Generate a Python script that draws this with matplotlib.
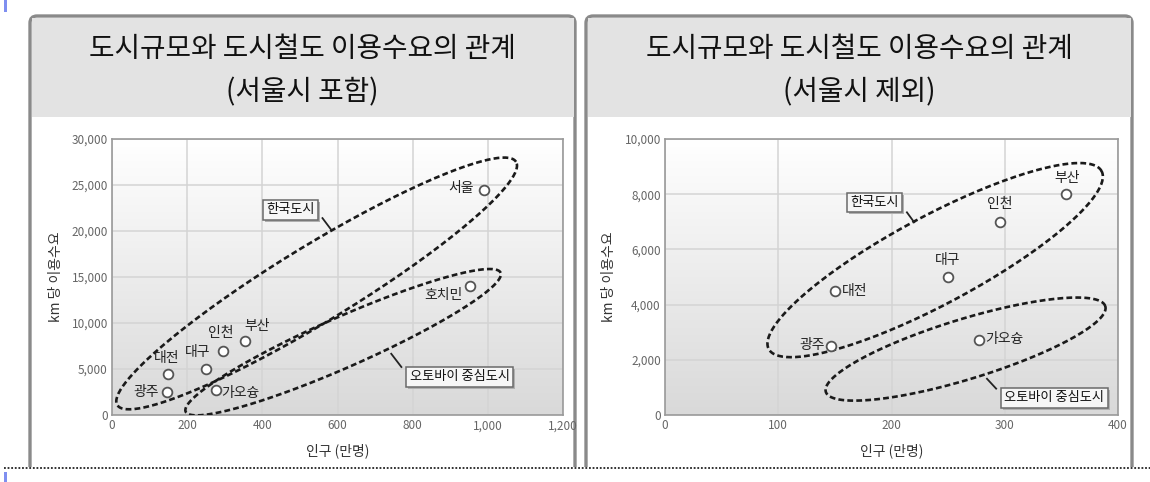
import numpy as np
import matplotlib
matplotlib.use('Agg')
from matplotlib import pyplot as plt
from matplotlib.patches import FancyBboxPatch, Rectangle
from matplotlib.colors import LinearSegmentedColormap
from matplotlib.ticker import FuncFormatter

plt.rcParams['font.family'] = ['Noto Sans CJK KR', 'DejaVu Sans']

W, H = 1150, 482

# city data: population (10k people) vs demand per km
cities = ['서울', '호치민', '부산', '인천', '대구', '대전', '광주', '가오슝']
population = [989, 952, 354, 296, 250, 150, 147, 277]
demand = [24500, 14000, 8000, 7000, 5000, 4500, 2500, 2700]

# second chart leaves out Seoul and Ho Chi Minh
cities_ex = ['부산', '인천', '대구', '대전', '광주', '가오슝']
population_ex = [354, 296, 250, 150, 147, 277]
demand_ex = [8000, 7000, 5000, 4500, 2500, 2700]

title_main = '도시규모와 도시철도 이용수요의 관계'
subtitles = ['(서울시 포함)', '(서울시 제외)']

# label offsets (points) and alignment for each city
offs_left = {'서울': (-7, 1, 'right'), '호치민': (-5, -6, 'right'), '부산': (9, 11, 'center'),
             '인천': (-2, 13, 'center'), '대구': (-6, 12, 'center'), '대전': (-1, 11, 'center'),
             '광주': (-6, 0, 'right'), '가오슝': (4, -2, 'left')}
offs_right = {'부산': (1, 12, 'center'), '인천': (0, 13, 'center'), '대구': (0, 12, 'center'),
              '대전': (5, 0, 'left'), '광주': (-5, 1, 'right'), '가오슝': (5, 1, 'left')}

fig = plt.figure(figsize=(W / 100, H / 100), dpi=100)

# page decoration layer in pixel coordinates
bg = fig.add_axes([0, 0, 1, 1], zorder=0)
bg.set_xlim(0, W)
bg.set_ylim(H, 0)
bg.axis('off')

clip = Rectangle((0, 0), W, 467, transform=bg.transData)
for x0, x1, sub in [(30, 575, subtitles[0]), (586, 1132, subtitles[1])]:
    panel = FancyBboxPatch((x0, 16), x1 - x0, 480, boxstyle='round,pad=0,rounding_size=7',
                           fc='white', ec='#8a8a8a', lw=2.4)
    bg.add_patch(panel)
    panel.set_clip_path(clip)
    bg.add_patch(Rectangle((x0 + 1.5, 17.5), x1 - x0 - 3, 99, fc='#e3e3e3', ec='none'))
    cx = (x0 + x1) / 2
    bg.text(cx, 49, title_main, ha='center', va='center', fontsize=20, color='#111')
    bg.text(cx, 92, sub, ha='center', va='center', fontsize=20, color='#111')

bg.plot([4, W], [468, 468], color='#222', lw=1.3, ls=(0, (1, 1)))
bg.add_patch(Rectangle((4, 0), 2.5, 12, fc='#7f8ff0', ec='none'))
bg.add_patch(Rectangle((4, 472), 2.5, 10, fc='#7f8ff0', ec='none'))


def ellipse(ax, p1, p2, b_px, n=240):
    # ellipse through tips p1, p2 (data) with semi-minor axis in pixels
    T = ax.transData
    d1, d2 = T.transform([p1, p2])
    c = (d1 + d2) / 2
    v = (d2 - d1) / 2
    u = v / np.hypot(*v)
    nv = np.array([-u[1], u[0]]) * b_px
    t = np.linspace(0, 2 * np.pi, n)
    pts = c + np.outer(np.cos(t), v) + np.outer(np.sin(t), nv)
    pts = T.inverted().transform(pts)
    ax.plot(pts[:, 0], pts[:, 1], color='#1a1a1a', lw=1.9, ls=(0, (2.2, 1.2)), zorder=4,
            solid_capstyle='butt')


def callout(ax, text, pos, p_from, p_to):
    ax.plot([p_from[0], p_to[0]], [p_from[1], p_to[1]], color='#222', lw=1.3, zorder=5)
    # drop shadow behind the box
    ax.annotate(text, pos, xytext=(1.5, -1.5), textcoords='offset points', ha='center', va='center',
                fontsize=9.5, color='none', zorder=5.5,
                bbox=dict(boxstyle='square,pad=0.25', fc='#b0b0b0', ec='none'))
    ax.text(pos[0], pos[1], text, ha='center', va='center', fontsize=9.5, color='#111', zorder=6,
            bbox=dict(boxstyle='square,pad=0.25', fc='#f6f6f6', ec='#6a6a6a', lw=1.1))


def make_axes(rect_px, xmax, xstep, ymax, ystep):
    l, t, r, b = rect_px
    ax = fig.add_axes([l / W, 1 - b / H, (r - l) / W, (b - t) / H], zorder=2)
    grad = np.linspace(1.0, 0.0, 256).reshape(-1, 1)
    ax.imshow(grad, extent=[0, 1, 0, 1], transform=ax.transAxes, aspect='auto',
              cmap=LinearSegmentedColormap.from_list('g', ['#d9d9d9', '#ffffff']), zorder=0)
    ax.set_xlim(0, xmax)
    ax.set_ylim(0, ymax)
    ax.set_xticks(np.arange(0, xmax + 1, xstep))
    ax.set_yticks(np.arange(0, ymax + 1, ystep))
    fmt = FuncFormatter(lambda v, p: f'{int(v):,}')
    ax.xaxis.set_major_formatter(fmt)
    ax.yaxis.set_major_formatter(fmt)
    ax.grid(True, color='#d4d4d4', lw=1.1, zorder=1)
    ax.set_axisbelow(True)
    ax.tick_params(length=0, labelsize=8.5, labelcolor='#666', pad=3)
    for s in ax.spines.values():
        s.set_color('#9a9a9a')
        s.set_linewidth(1.2)
    ax.set_xlabel('인구 (만명)', fontsize=10, color='#333', labelpad=8)
    ax.set_ylabel('km 당 이용수요', fontsize=10, color='#333', labelpad=6)
    return ax


def scatter(ax, names, xs, ys, offs):
    ax.plot(xs, ys, 'o', ms=7, mfc='white', mec='#555', mew=1.3, zorder=7, clip_on=False)
    for name, x, y in zip(names, xs, ys):
        dx, dy, ha = offs[name]
        ax.annotate(name, (x, y), xytext=(dx, dy), textcoords='offset points', ha=ha, va='center',
                    fontsize=10, color='#222', zorder=8)


# chart 1: Seoul included
ax1 = make_axes((112, 139, 563, 415), 1200, 200, 30000, 5000)
scatter(ax1, cities, population, demand, offs_left)
ellipse(ax1, (14, 1080), (1075, 27520), 38)
ellipse(ax1, (196, 360), (1034, 15470), 25)
callout(ax1, '한국도시', (474, 22300), (560, 21400), (583, 20150))
callout(ax1, '오토바이 중심도시', (925, 4137), (770, 5216), (743, 6655))

# chart 2: Seoul excluded
ax2 = make_axes((665, 139, 1118, 415), 400, 100, 10000, 2000)
scatter(ax2, cities_ex, population_ex, demand_ex, offs_right)
ellipse(ax2, (91.6, 2388), (385.5, 8836), 44)
ellipse(ax2, (142, 836), (388.8, 3940), 30)
callout(ax2, '한국도시', (184.7, 7701), (213.6, 7343), (220, 6985))
callout(ax2, '오토바이 중심도시', (343.8, 621), (292.4, 955), (284.3, 1313))

fig.savefig('out.png', dpi=100)
